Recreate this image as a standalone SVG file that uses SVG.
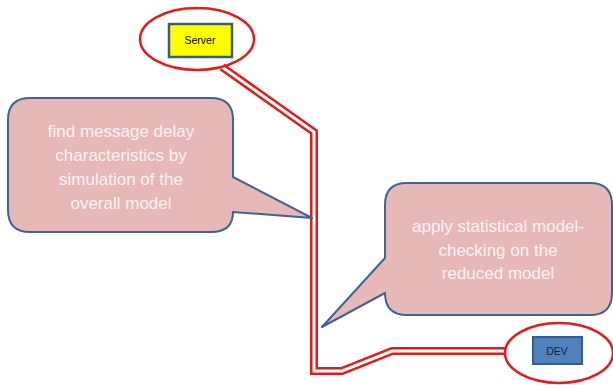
<svg xmlns="http://www.w3.org/2000/svg" width="613" height="385" viewBox="0 0 613 385">
  <style>
    .halo { fill: none; stroke: #e31b1b; stroke-width: 2.5; }
    .callout { fill: #e6b9b8; stroke: #3f6490; stroke-width: 2; stroke-linejoin: round; }
    .note { font-family: "Liberation Sans", Arial, sans-serif; font-size: 17px; fill: #fbf3f3; text-anchor: middle; }
    .tag { font-family: "Liberation Sans", Arial, sans-serif; font-size: 10.5px; text-anchor: middle; }
    .wire-outer { fill: none; stroke: #e31b1b; stroke-width: 8; stroke-linejoin: miter; }
    .wire-inner { fill: none; stroke: #ffffff; stroke-width: 3; stroke-linejoin: miter; }
  </style>

  <rect width="613" height="385" fill="#ffffff"/>

  <!-- double-line link from Server down to DEV -->
  <g id="connectors">
    <path class="wire-outer" d="M222,67 L314,132 L314,371 L342,371 L392,351 L506,351"/>
    <path class="wire-inner" d="M222,67 L314,132 L314,371 L342,371 L392,351 L506,351"/>
  </g>

  <g id="server">
    <ellipse class="halo" cx="197" cy="39" rx="57" ry="31"/>
    <rect x="169" y="24" width="63" height="33" fill="#ffff00" stroke="#3f5b80" stroke-width="2.5"/>
    <text class="tag" x="200" y="44" fill="#000000">Server</text>
  </g>

  <g id="dev">
    <ellipse class="halo" cx="559" cy="353" rx="54" ry="30"/>
    <rect x="533" y="337" width="49" height="27" fill="#4f81bd" stroke="#385d8a" stroke-width="2"/>
    <text class="tag" x="557" y="355" fill="#1c2438">DEV</text>
  </g>

  <g id="note-simulation">
    <path class="callout" d="M30,98 H211 Q233,98 233,120 V177 L312,218 L233,212 Q233,232 211,232 H30 Q8,232 8,210 V120 Q8,98 30,98 Z"/>
    <text class="note" x="121" y="137">find message delay</text>
    <text class="note" x="121" y="161">characteristics by</text>
    <text class="note" x="121" y="185">simulation of the</text>
    <text class="note" x="121" y="209">overall model</text>
  </g>

  <g id="note-checking">
    <path class="callout" d="M407,183 H590 Q612,183 612,205 V293 Q612,315 590,315 H407 Q385,315 385,293 L322,327 L385,258 V205 Q385,183 407,183 Z"/>
    <text class="note" x="498" y="232">apply statistical model-</text>
    <text class="note" x="498" y="256">checking on the</text>
    <text class="note" x="498" y="279">reduced model</text>
  </g>
</svg>
